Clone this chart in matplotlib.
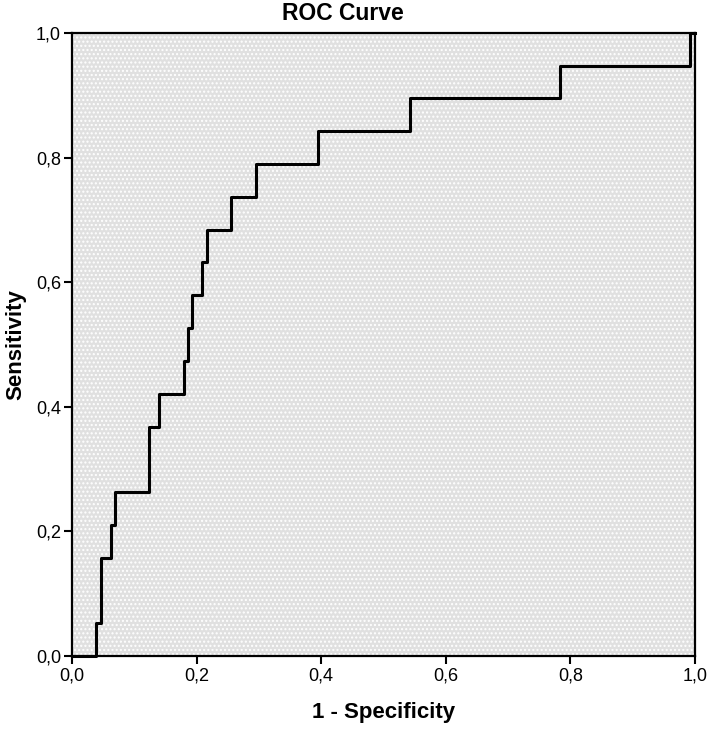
import numpy as np
import matplotlib.pyplot as plt

# ROC curve step points (1 - specificity, sensitivity)
fpr = [0.0, 0.038, 0.038, 0.046, 0.046, 0.062, 0.062, 0.069, 0.069, 0.124, 0.124,
       0.139, 0.139, 0.179, 0.179, 0.186, 0.186, 0.193, 0.193, 0.209, 0.209,
       0.217, 0.217, 0.255, 0.255, 0.295, 0.295, 0.395, 0.395, 0.543, 0.543,
       0.783, 0.783, 0.993, 0.993, 1.0]
tpr = [0.0, 0.0, 0.053, 0.053, 0.158, 0.158, 0.211, 0.211, 0.263, 0.263, 0.368,
       0.368, 0.421, 0.421, 0.474, 0.474, 0.526, 0.526, 0.579, 0.579, 0.632,
       0.632, 0.684, 0.684, 0.737, 0.737, 0.789, 0.789, 0.842, 0.842, 0.895,
       0.895, 0.947, 0.947, 1.0, 1.0]
ticks = [0.0, 0.2, 0.4, 0.6, 0.8, 1.0]
tick_labels = ["0,0", "0,2", "0,4", "0,6", "0,8", "1,0"]

plt.rcParams['font.family'] = ['Liberation Sans', 'DejaVu Sans']
plt.rcParams['hatch.color'] = 'white'
plt.rcParams['hatch.linewidth'] = 1.0

fig = plt.figure(figsize=(7.09, 7.29), dpi=100)
ax = fig.add_axes([0.1016, 0.1001, 0.8784, 0.8546])

ax.set_facecolor('#e0e0e0')
ax.fill_between([0, 1], 0, 1, facecolor='#e0e0e0', edgecolor='white',
                hatch='....', linewidth=0, zorder=0)

ax.plot(fpr, tpr, color='black', linewidth=2.2, zorder=3, clip_on=False)

ax.set_xlim(0, 1)
ax.set_ylim(0, 1)
ax.set_xticks(ticks)
ax.set_yticks(ticks)
ax.set_xticklabels(tick_labels, fontsize=13)
ax.set_yticklabels(tick_labels, fontsize=13)
ax.tick_params(direction='out', length=6, width=1.5, color='black', pad=2)

for s in ax.spines.values():
    s.set_linewidth(1.6)
    s.set_color('black')

fig.text(343 / 709, 1 - 13 / 729, "ROC Curve", fontsize=16.5, fontweight='bold',
         ha='center', va='center')
ax.set_xlabel("1 - Specificity", fontsize=16, fontweight='bold', labelpad=13)
ax.set_ylabel("Sensitivity", fontsize=16, fontweight='bold', labelpad=7)

fig.savefig("out.png", dpi=100)
